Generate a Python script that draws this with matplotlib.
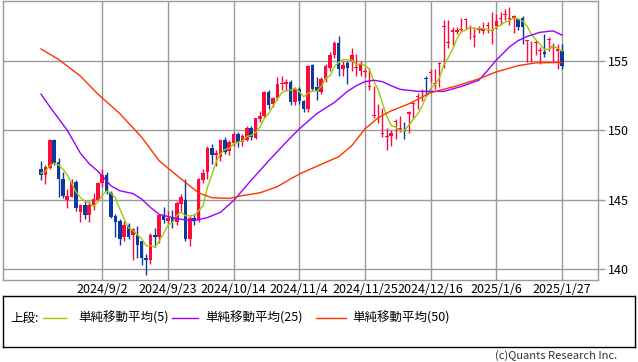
"""USD/JPY daily candles with 5/25/50-day simple moving averages."""

import numpy as np
import pandas as pd
import matplotlib
matplotlib.use("Agg")
import matplotlib.pyplot as plt

plt.rcParams["font.family"] = ["Noto Sans CJK JP", "DejaVu Sans"]

# trading days shown (weekdays 2024/8/13 .. 2025/1/27)
dates = pd.bdate_range("2024-08-13", "2025-01-27")

opens = [147.2, 146.8, 147.3, 149.3, 147.7, 146.5, 145.0, 145.2, 146.3, 144.1,
         144.6, 143.9, 144.6, 145.0, 146.2, 146.8, 145.5, 143.8, 143.5, 142.3,
         143.2, 142.45, 142.45, 142.0, 140.8, 140.65, 142.45, 142.3, 143.9, 143.5,
         143.7, 143.4, 144.7, 145.0, 142.2, 143.7, 143.55, 146.4, 147.0, 148.7,
         148.2, 148.1, 149.3, 148.5, 149.05, 149.75, 149.15, 149.3, 150.15, 149.45,
         150.8, 151.05, 152.75, 151.9, 152.35, 153.3, 153.35, 153.45, 152.0, 152.95,
         152.1, 151.5, 154.7, 153.1, 152.75, 153.7, 154.5, 155.4, 156.3, 154.4,
         154.85, 155.0, 154.5, 154.3, 154.2, 153.1, 151.05, 151.5, 149.75, 149.5,
         149.6, 150.6, 150.1, 150.0, 151.2, 151.9, 152.4, 152.75, 153.75, 154.15,
         153.35, 154.75, 157.45, 156.3, 157.1, 157.1, 157.25, 157.9, 157.4, 156.7,
         157.2, 157.15, 157.5, 157.15, 157.5, 158.0, 158.3, 158.0, 158.1, 158.0,
         158.1, 156.4, 155.1, 156.3, 155.7, 155.6, 156.5, 156.0, 155.7, 155.7]
highs = [147.8, 147.5, 149.4, 149.4, 148.0, 147.0, 145.8, 146.5, 146.4, 144.7,
         144.9, 144.9, 145.5, 146.25, 147.2, 147.0, 145.6, 144.0, 143.6, 143.5,
         143.3, 143.0, 143.1, 142.0, 141.1, 142.6, 143.0, 144.0, 144.5, 144.2,
         144.3, 144.9, 145.4, 146.5, 143.8, 144.0, 146.6, 147.2, 148.9, 149.0,
         148.6, 149.4, 149.5, 149.3, 149.9, 149.9, 149.75, 150.3, 150.3, 150.9,
         151.4, 152.8, 152.9, 152.4, 153.85, 153.9, 153.7, 153.6, 153.1, 153.1,
         152.2, 154.7, 154.8, 153.8, 153.8, 154.8, 155.6, 156.4, 156.75, 155.0,
         155.0, 155.9, 155.5, 155.0, 154.5, 154.5, 153.2, 151.9, 151.6, 150.2,
         150.0, 150.8, 151.0, 150.6, 151.4, 152.0, 152.7, 153.0, 153.9, 154.4,
         154.4, 154.9, 157.9, 157.9, 157.4, 157.4, 158.1, 158.1, 157.6, 157.4,
         157.5, 157.8, 157.8, 158.5, 158.4, 158.5, 158.7, 158.9, 158.3, 158.1,
         158.2, 156.5, 156.4, 156.5, 156.0, 156.9, 156.7, 156.3, 156.2, 156.2]
lows = [146.4, 146.1, 147.2, 147.5, 145.2, 145.1, 144.4, 145.2, 144.2, 143.4,
        143.6, 143.4, 144.3, 144.9, 145.9, 145.4, 143.7, 142.35, 141.75, 142.0,
        142.2, 140.7, 140.8, 140.3, 139.6, 140.4, 141.6, 141.9, 143.3, 143.3,
        143.0, 143.2, 144.1, 142.0, 141.65, 143.2, 143.4, 146.2, 146.5, 147.6,
        147.4, 147.8, 148.3, 148.2, 148.9, 148.8, 148.9, 149.2, 149.3, 149.4,
        150.6, 150.9, 151.5, 151.7, 152.2, 152.9, 152.8, 151.8, 151.8, 151.9,
        151.3, 151.3, 152.8, 152.2, 152.6, 153.5, 154.3, 155.2, 153.9, 153.9,
        153.3, 154.3, 153.9, 153.9, 153.8, 152.9, 150.9, 150.5, 149.5, 148.6,
        148.9, 149.4, 149.9, 149.4, 149.8, 150.9, 151.5, 152.1, 152.5, 153.5,
        153.0, 153.1, 154.5, 155.9, 156.1, 156.9, 157.1, 157.3, 156.6, 156.0,
        157.0, 156.9, 157.0, 156.2, 157.3, 157.6, 157.9, 157.6, 157.0, 157.2,
        156.2, 154.9, 154.9, 155.4, 154.8, 155.3, 155.7, 155.0, 154.4, 154.4]
closes = [146.8, 147.35, 149.3, 147.6, 146.5, 145.3, 145.25, 146.3, 144.4, 144.6,
          143.9, 144.6, 145.05, 146.2, 146.8, 145.55, 143.75, 143.4, 142.2, 143.2,
          142.35, 142.9, 141.75, 140.8, 140.65, 142.45, 142.3, 143.9, 143.55, 143.7,
          143.4, 144.75, 145.2, 142.2, 143.7, 143.5, 146.5, 146.9, 148.75, 148.2,
          148.4, 149.3, 148.45, 149.15, 149.75, 149.15, 149.6, 150.15, 149.5, 150.85,
          151.05, 152.75, 151.8, 152.3, 153.3, 153.4, 153.45, 152.0, 152.95, 152.1,
          151.55, 154.65, 152.95, 152.85, 153.7, 154.6, 155.45, 156.3, 154.4, 154.7,
          154.5, 155.4, 154.5, 154.8, 154.2, 153.1, 151.1, 151.5, 149.75, 149.55,
          149.8, 150.6, 150.1, 149.95, 151.3, 151.95, 152.5, 152.75, 153.7, 154.15,
          153.35, 154.8, 157.45, 156.3, 157.2, 157.2, 157.3, 158.0, 157.4, 156.7,
          157.2, 157.3, 157.5, 157.2, 157.85, 158.05, 158.3, 158.05, 158.2, 157.4,
          157.4, 156.45, 155.1, 156.3, 155.7, 155.5, 156.55, 156.0, 155.85, 154.65]
# closes of the four sessions before the first candle (for the 5-day average)
pre_closes = [146.7, 147.3, 146.6, 147.2]

# 25- and 50-day averages (day index, value)
ma25_idx = [0, 2, 4, 6, 9, 11, 13, 16, 18, 21, 23, 25, 27, 30, 33, 35, 38, 41,
            44, 48, 52, 56, 59, 63, 67, 70, 72, 74, 76, 78, 80, 82, 86, 92, 96,
            100, 102, 104, 107, 109, 111, 114, 117, 119]
ma25 = [152.6, 151.7, 150.85, 150.0, 148.35, 147.6, 147.05, 146.0, 145.65, 145.45,
        145.05, 144.45, 143.95, 143.72, 143.55, 143.5, 143.72, 144.1, 144.95, 146.4,
        147.8, 149.15, 150.1, 151.2, 152.0, 152.8, 153.2, 153.5, 153.6, 153.5,
        153.2, 152.95, 152.8, 152.8, 153.15, 153.6, 154.3, 155.05, 156.0, 156.45,
        156.75, 157.05, 157.15, 156.85]
ma50_idx = [0, 4, 9, 13, 18, 23, 27, 32, 36, 39, 43, 46, 50, 54, 57, 59, 64, 68,
            71, 74, 77, 80, 84, 89, 95, 100, 104, 109, 113, 119]
ma50 = [155.85, 155.1, 153.9, 152.6, 151.2, 149.5, 147.8, 146.5, 145.5, 145.15,
        145.1, 145.3, 145.5, 145.95, 146.5, 146.85, 147.55, 148.1, 148.9, 150.1,
        150.9, 151.4, 151.9, 152.7, 153.2, 153.7, 154.2, 154.65, 154.85, 154.88]

tick_dates = ["2024-09-02", "2024-09-23", "2024-10-14", "2024-11-04",
              "2024-11-25", "2024-12-16", "2025-01-06", "2025-01-27"]
tick_labels = ["2024/9/2", "2024/9/23", "2024/10/14", "2024/11/4",
               "2024/11/25", "2024/12/16", "2025/1/6", "2025/1/27"]
y_ticks = [140, 145, 150, 155]

UP, DOWN = "#ff0a3c", "#0b3a9e"
C5, C25, C50 = "#99cc00", "#9900ff", "#ff3300"
GRID = "#999999"

o = np.array(opens); h = np.array(highs); l = np.array(lows); c = np.array(closes)
x = np.arange(len(dates))
ma5 = pd.Series(pre_closes + closes).rolling(5).mean().to_numpy()[4:]

W, H = 638, 362
fig = plt.figure(figsize=(W / 100, H / 100), dpi=100)
ax = fig.add_axes([3 / W, 1 - 280 / H, 595 / W, 279 / H])

# candles
col = np.where(c >= o, UP, DOWN)
ax.vlines(x, l, h, colors=col, lw=1, zorder=3)
body_lo = np.minimum(o, c)
body_h = np.maximum(np.abs(c - o), 0.06)
ax.bar(x, body_h, bottom=body_lo, width=0.82, color=col, lw=0, zorder=4)

ax.plot(x, ma5, color=C5, lw=1, zorder=5)
ax.plot(ma25_idx, ma25, color=C25, lw=1, zorder=5)
ax.plot(ma50_idx, ma50, color=C50, lw=1, zorder=5)

ax.set_xlim((3 - 41) / 4.378, (598 - 41) / 4.378)
ax.set_ylim(155 - 220 / 13.95, 155 + 60 / 13.95)

tick_pos = [dates.get_loc(pd.Timestamp(d)) for d in tick_dates]
ax.set_xticks(tick_pos)
ax.set_xticklabels(tick_labels, fontsize=9)
ax.set_yticks(y_ticks)
ax.yaxis.tick_right()
ax.tick_params(axis="x", length=0, pad=2)
ax.tick_params(axis="y", length=5, width=1, color=GRID, labelsize=9, pad=2)
ax.grid(color=GRID, lw=1, zorder=0)
ax.set_axisbelow(True)
for s in ax.spines.values():
    s.set_color(GRID)
    s.set_linewidth(1)

# legend box
lg = fig.add_axes([3 / W, 1 - 347 / H, 632 / W, 51 / H])
lg.set_xlim(0, 632)
lg.set_ylim(51, 0)
lg.set_xticks([]); lg.set_yticks([])
for s in lg.spines.values():
    s.set_color("black")
    s.set_linewidth(1)
ly = 22
lg.text(7, ly, "上段:", fontsize=9, va="center")
for x0, x1, tx, color, lab in [(40, 63, 75, C5, "単純移動平均(5)"),
                                (169, 195, 202, C25, "単純移動平均(25)"),
                                (313, 343, 349, C50, "単純移動平均(50)")]:
    lg.plot([x0, x1], [ly, ly], color=color, lw=1)
    lg.text(tx, ly, lab, fontsize=9, va="center")

fig.text(617 / W, 1 - 356 / H, "(c)Quants Research Inc.", ha="right",
         va="center", fontsize=8, color="#333333")

fig.savefig("out.png", dpi=100)
